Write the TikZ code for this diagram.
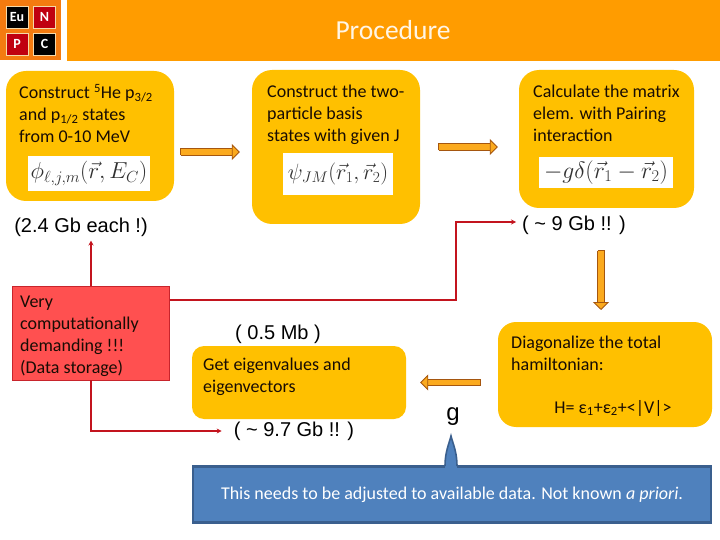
\documentclass[tikz,border=0pt]{standalone}
\usepackage[no-math]{fontspec}
\setmainfont{Carlito}
\newfontfamily\labelfont{Liberation Sans}
\usepackage{amsmath}
\usetikzlibrary{arrows.meta,positioning,calc}
\definecolor{banner}{HTML}{FF9C00}
\definecolor{logobg}{HTML}{F47B10}
\definecolor{logored}{HTML}{C00010}
\definecolor{logoline}{HTML}{F5D9A8}
\definecolor{gold}{HTML}{FFC000}
\definecolor{blockfill}{HTML}{FBAA1E}
\definecolor{blockline}{HTML}{A5560F}
\definecolor{warn}{HTML}{FF5050}
\definecolor{warnline}{HTML}{C8242C}
\definecolor{wire}{HTML}{C3141E}
\definecolor{noteblue}{HTML}{4F81BD}
\definecolor{noteline}{HTML}{3A5F8E}
\definecolor{ink}{HTML}{180C04}
\definecolor{mathink}{HTML}{303030}
\tikzset{x=1pt,y=-1pt,
  goldbox/.style={rounded corners=20pt,fill=gold,inner sep=0pt},
  boxtext/.style={anchor=north west,inner sep=0pt,align=left,text=ink,font=\fontsize{18}{22}\selectfont},
  mathbox/.style={fill=white,inner sep=0pt,text=mathink,font=\fontsize{23}{25}\selectfont},
  sizelabel/.style={inner sep=0pt,font=\labelfont\fontsize{20}{22}\selectfont},
  logotile/.style={draw=logoline,line width=.8pt,minimum size=22pt,inner sep=0pt,text=white,font=\bfseries\fontsize{14}{15}\selectfont},
  blockarr/.style={{Bar[width=7pt,line width=.8pt]}-{Triangle[length=8pt,width=16pt,fill=blockfill,line width=.8pt]},
    draw=blockline,line width=.8pt,double=blockfill,double distance=5.6pt},
  wirearr/.style={-{Stealth[length=5pt,width=5pt]},line width=1.6pt,draw=wire}}
\begin{document}
\begin{tikzpicture}
\useasboundingbox (0,0) rectangle (720,540);
% header
\fill[banner] (67,0) rectangle (720,61);
\fill[logobg] (0,0) rectangle (61,60);
\node[logotile,fill=black] (eu) at (17,17) {Eu};
\node[logotile,fill=logored] (n) at (44.5,17) {N};
\node[logotile,fill=logored] (p) at (17,44) {P};
\node[logotile,fill=black] (c) at (44.5,44) {C};
\node[inner sep=0pt,text=white!90!banner,font=\fontsize{27.5}{29}\selectfont] (title) at (393,30) {Procedure};
% top row
\node[goldbox,minimum width=168pt,minimum height=130pt] (basis) at (90,136) {};
\node[goldbox,minimum width=168pt,minimum height=154pt] (twobody) at (336,147) {};
\node[goldbox,minimum width=175pt,minimum height=138pt] (pairing) at (606.5,139) {};
\node[boxtext] (basistext) at (19,84) {Construct \textsuperscript{5}He p\textsubscript{3/2}\\and p\textsubscript{1/2} states\\from 0-10 MeV};
\node[boxtext] (twotext) at (267,85) {Construct the two-\\particle basis\\states with given J};
\node[boxtext] (pairtext) at (533,85) {Calculate the matrix\\elem. with Pairing\\interaction};
\node[mathbox,minimum width=122pt,minimum height=35pt] (phi) at (89,173.5) {\scalebox{.93}{$\phi_{\ell,j,m}(\vec{r},E_C)$}};
\node[mathbox,minimum width=110pt,minimum height=42pt] (psi) at (338,174) {\scalebox{.89}{$\psi_{JM}(\vec{r}_1,\vec{r}_2)$}};
\node[mathbox,minimum width=134pt,minimum height=31pt] (delta) at (606,172.5) {\scalebox{.95}{$-g\delta(\vec{r}_1-\vec{r}_2)$}};
\node[sizelabel] (each) at (81,227) {(2.4 Gb each !)};
\node[sizelabel] (nine) at (574,225) {( \textasciitilde{} 9 Gb !! )};
% middle row
\node[draw=warnline,line width=.8pt,fill=warn,minimum width=157pt,minimum height=94pt,inner sep=0pt] (storage) at (91,333) {};
\node[boxtext] (storagetext) at (20,296) {Very\\computationally\\demanding !!!\\(Data storage)};
\node[goldbox,rounded corners=12pt,minimum width=214pt,minimum height=73pt] (eigen) at (299,382.5) {};
\node[boxtext] (eigentext) at (203,358) {Get eigenvalues and\\eigenvectors};
\node[goldbox,rounded corners=18pt,minimum width=214pt,minimum height=105pt] (diag) at (605,374.5) {};
\node[boxtext] (diagtext) at (511,336) {Diagonalize the total\\hamiltonian:};
\node[boxtext,anchor=center] (hamil) at (613,408) {H= ε\textsubscript{1}+ε\textsubscript{2}+<|V|>};
\node[sizelabel] (small) at (278,334) {( 0.5 Mb )};
\node[sizelabel] (large) at (294,431) {( \textasciitilde{} 9.7 Gb !! )};
\node[sizelabel,font=\labelfont\fontsize{24}{26}\selectfont] (coupling) at (453,417) {g};
% note
\node[draw=noteline,line width=2.4pt,fill=noteblue,minimum width=518pt,minimum height=56pt,inner sep=0pt,text=white,font=\fontsize{18}{20}\selectfont] (note) at (452,494.5) {This needs to be adjusted to available data. Not known \textit{a priori}.};
\fill[noteblue] (445,468) .. controls (445,452) and (449,444) .. (451,436) .. controls (453,444) and (457,452) .. (457,468) -- cycle;
\draw[noteline,line width=1.6pt] (445,466) .. controls (445,452) and (449,444) .. (451,436) .. controls (453,444) and (457,452) .. (457,466);
% block arrows
\draw[blockarr,shorten <=6pt,shorten >=12pt] (basis.east |- 0,152) -- (twobody.west |- 0,152);
\draw[blockarr,shorten <=18pt,shorten >=21pt] (twobody.east |- 0,147) -- (pairing.west |- 0,147);
\coordinate (pairfoot) at (601,208);
\coordinate (diagtop) at (601,322);
\draw[blockarr,shorten <=42pt,shorten >=12pt] (pairfoot) -- (diagtop);
\draw[blockarr,shorten <=17pt,shorten >=14pt] (diag.west |- eigen.east) -- (eigen.east);
% storage wires
\draw[wirearr,shorten >=4pt] (storage.north) -- (storage.north |- each.south);
\draw[wirearr,shorten >=12pt] (storage.south) |- (large.west);
\draw[wirearr,shorten >=6pt] (storage.east |- 0,300) -| (456,222) -- (nine.west |- 0,222);
\end{tikzpicture}
\end{document}
